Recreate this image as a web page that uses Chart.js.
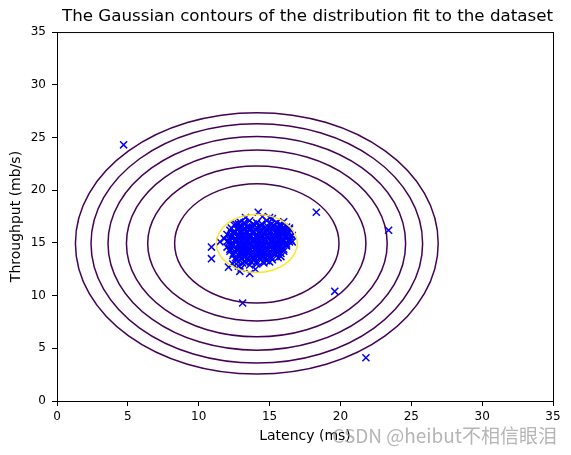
<!DOCTYPE html>
<html>
<head>
<meta charset="utf-8">
<script src="https://cdn.jsdelivr.net/npm/chart.js@4.4.1/dist/chart.umd.min.js"></script>
<style>
  html, body { margin: 0; padding: 0; background: #fff; }
</style>
</head>
<body>
<canvas id="gaussChart" width="571" height="455"></canvas>
<script>
// server data: latency (ms) vs throughput (mb/s)
const latency = [
  13.3, 14.5, 15.2,
  12.9, 13.6, 14.1, 14.8, 15.5, 16.0,
  12.8, 13.25, 13.85, 14.45, 15.15, 15.75,
  12.5, 13.0, 13.5, 13.9, 14.4, 14.9, 15.3, 15.8, 16.2,
  12.9, 13.4, 13.8, 14.3, 14.7, 15.2, 15.6, 16.0,
  12.3, 12.75, 13.25, 13.7, 14.15, 14.65, 15.1, 15.55, 16.0, 16.4,
  12.2, 12.7, 13.1, 13.6, 14.0, 14.4, 14.8, 15.2, 15.6, 16.0, 16.4,
  12.5, 12.95, 13.4, 13.85, 14.3, 14.7, 15.1, 15.5, 15.95, 16.3,
  12.45, 12.9, 13.35, 13.8, 14.2, 14.6, 15.0, 15.4, 15.8, 16.2,
  12.0, 12.5, 12.9, 13.3, 13.8, 14.2, 14.6, 15.0, 15.4, 15.9, 16.3, 16.6,
  12.35, 12.8, 13.2, 13.65, 14.1, 14.5, 14.9, 15.3, 15.75, 16.2,
  12.25, 12.7, 13.1, 13.55, 14.0, 14.4, 14.8, 15.2, 15.65, 16.1, 16.45,
  11.8, 12.3, 12.7, 13.2, 13.6, 14.0, 14.4, 14.9, 15.3, 15.7, 16.1, 16.5,
  12.2, 12.6, 13.05, 13.5, 13.9, 14.3, 14.75, 15.2, 15.6, 16.0, 16.4,
  12.05, 12.5, 12.95, 13.4, 13.8, 14.2, 14.65, 15.1, 15.5, 15.9, 16.3,
  12.1, 12.6, 13.0, 13.4, 13.8, 14.3, 14.7, 15.1, 15.5, 15.9, 16.4,
  12.4, 12.85, 13.3, 13.7, 14.15, 14.6, 15.0, 15.4, 15.8, 16.2,
  12.35, 12.8, 13.2, 13.6, 14.05, 14.5, 14.9, 15.3, 15.7, 16.15,
  12.0, 12.4, 12.9, 13.3, 13.7, 14.1, 14.5, 15.0, 15.4, 15.8, 16.2,
  12.3, 12.7, 13.15, 13.6, 14.0, 14.4, 14.85, 15.25, 15.7,
  12.2, 12.65, 13.1, 13.5, 13.9, 14.3, 14.75, 15.2, 15.6, 16.0,
  12.2, 12.7, 13.1, 13.5, 14.0, 14.4, 14.8, 15.2, 15.6, 16.0,
  12.6, 13.0, 13.4, 13.85, 14.3, 14.7, 15.1, 15.5,
  12.45, 12.9, 13.3, 13.75, 14.2, 14.6, 15.0, 15.4, 15.8,
  12.4, 12.8, 13.2, 13.7, 14.1, 14.5, 14.9, 15.4, 15.8,
  12.9, 13.3, 13.8, 14.2, 14.6, 15.0,
  12.6, 13.0, 13.45, 13.9, 14.3, 14.7, 15.15, 15.6,
  12.6, 13.0, 13.5, 13.9, 14.3, 14.8, 15.2,
  12.8, 13.25, 13.7, 14.1, 14.55, 15.0,
  12.4, 13.1, 13.6, 14.1, 14.6,
  12.1, 13.0, 14.0,
  12.8, 13.6, 12.9, 11.5, 10.9, 10.9, 14.2, 16.6, 12.6, 13.2, 15.0,
  4.7, 18.3, 23.4, 19.6, 21.8, 13.1
];
const throughput = [
  17.4, 17.5, 17.3,
  17.0, 17.1, 16.9, 17.1, 16.9, 17.0,
  16.8, 16.8, 16.8, 16.8, 16.8, 16.8,
  16.7, 16.6, 16.5, 16.7, 16.6, 16.5, 16.7, 16.6, 16.5,
  16.5, 16.5, 16.5, 16.5, 16.5, 16.5, 16.5, 16.5,
  16.4, 16.4, 16.4, 16.4, 16.4, 16.4, 16.4, 16.4, 16.4, 16.4,
  16.2, 16.3, 16.1, 16.2, 16.3, 16.1, 16.2, 16.3, 16.1, 16.2, 16.3,
  16.1, 16.1, 16.1, 16.1, 16.1, 16.1, 16.1, 16.1, 16.1, 16.1,
  16.0, 16.0, 16.0, 16.0, 16.0, 16.0, 16.0, 16.0, 16.0, 16.0,
  15.8, 15.9, 15.7, 15.8, 15.9, 15.7, 15.8, 15.9, 15.7, 15.8, 15.9, 15.7,
  15.7, 15.7, 15.7, 15.7, 15.7, 15.7, 15.7, 15.7, 15.7, 15.7,
  15.6, 15.6, 15.6, 15.6, 15.6, 15.6, 15.6, 15.6, 15.6, 15.6, 15.6,
  15.4, 15.5, 15.3, 15.4, 15.5, 15.3, 15.4, 15.5, 15.3, 15.4, 15.5, 15.3,
  15.3, 15.3, 15.3, 15.3, 15.3, 15.3, 15.3, 15.3, 15.3, 15.3, 15.3,
  15.2, 15.2, 15.2, 15.2, 15.2, 15.2, 15.2, 15.2, 15.2, 15.2, 15.2,
  15.0, 15.1, 14.9, 15.0, 15.1, 14.9, 15.0, 15.1, 14.9, 15.0, 15.1,
  14.9, 14.9, 14.9, 14.9, 14.9, 14.9, 14.9, 14.9, 14.9, 14.9,
  14.8, 14.8, 14.8, 14.8, 14.8, 14.8, 14.8, 14.8, 14.8, 14.8,
  14.6, 14.7, 14.5, 14.6, 14.7, 14.5, 14.6, 14.7, 14.5, 14.6, 14.7,
  14.5, 14.5, 14.5, 14.5, 14.5, 14.5, 14.5, 14.5, 14.5,
  14.4, 14.4, 14.4, 14.4, 14.4, 14.4, 14.4, 14.4, 14.4, 14.4,
  14.2, 14.3, 14.1, 14.2, 14.3, 14.1, 14.2, 14.3, 14.1, 14.2,
  14.1, 14.1, 14.1, 14.1, 14.1, 14.1, 14.1, 14.1,
  14.0, 14.0, 14.0, 14.0, 14.0, 14.0, 14.0, 14.0, 14.0,
  13.8, 13.9, 13.7, 13.8, 13.9, 13.7, 13.8, 13.9, 13.7,
  13.7, 13.7, 13.7, 13.7, 13.7, 13.7,
  13.6, 13.6, 13.6, 13.6, 13.6, 13.6, 13.6, 13.6,
  13.4, 13.5, 13.3, 13.4, 13.5, 13.3, 13.4,
  13.2, 13.2, 13.2, 13.2, 13.2, 13.2,
  13.0, 13.1, 12.9, 13.0, 13.1,
  12.7, 12.6, 12.5,
  12.8, 12.1, 12.3, 15.1, 13.5, 14.6, 17.9, 15.1, 16.8, 16.9, 17.4,
  24.3, 17.9, 16.2, 10.4, 4.1, 9.3
];

// contour lines of the fitted gaussian (levels 1e-2 ... 1e-20)
const contourLevels = ["1e-2", "1e-5", "1e-8", "1e-11", "1e-14", "1e-17", "1e-20"];
const contour1e2 = [[16.96,14.95],[16.74,16.00],[16.12,16.90],[15.20,17.49],[14.10,17.70],[13.00,17.49],[12.08,16.90],[11.46,16.00],[11.24,14.95],[11.46,13.90],[12.08,13.00],[13.00,12.41],[14.10,12.20],[15.20,12.41],[16.12,13.00],[16.74,13.90]];
const contour1e5 = [[19.90,14.95],[19.46,17.11],[18.20,18.95],[16.32,20.17],[14.10,20.60],[11.88,20.17],[10.00,18.95],[8.74,17.11],[8.30,14.95],[8.74,12.79],[10.00,10.96],[11.88,9.73],[14.10,9.30],[16.32,9.73],[18.20,10.96],[19.46,12.79]];
const contour1e8 = [[21.80,14.95],[21.21,17.76],[19.55,20.15],[17.05,21.74],[14.10,22.30],[11.15,21.74],[8.66,20.15],[6.99,17.76],[6.40,14.95],[6.99,12.14],[8.66,9.75],[11.15,8.16],[14.10,7.60],[17.05,8.16],[19.55,9.75],[21.21,12.14]];
const contour1e11 = [[23.30,14.95],[22.60,18.34],[20.61,21.22],[17.62,23.14],[14.10,23.81],[10.58,23.14],[7.60,21.22],[5.60,18.34],[4.90,14.95],[5.60,11.56],[7.60,8.69],[10.58,6.76],[14.10,6.09],[17.62,6.76],[20.61,8.69],[22.60,11.56]];
const contour1e14 = [[24.60,14.95],[23.80,18.83],[21.53,22.11],[18.12,24.31],[14.10,25.08],[10.08,24.31],[6.68,22.11],[4.40,18.83],[3.60,14.95],[4.40,11.07],[6.68,7.79],[10.08,5.59],[14.10,4.82],[18.12,5.59],[21.53,7.79],[23.80,11.07]];
const contour1e17 = [[25.80,14.95],[24.91,19.29],[22.37,22.98],[18.58,25.44],[14.10,26.30],[9.62,25.44],[5.83,22.98],[3.29,19.29],[2.40,14.95],[3.29,10.61],[5.83,6.92],[9.62,4.46],[14.10,3.60],[18.58,4.46],[22.37,6.92],[24.91,10.61]];
const contour1e20 = [[26.90,14.95],[25.93,19.70],[23.15,23.72],[19.00,26.41],[14.10,27.35],[9.20,26.41],[5.05,23.72],[2.27,19.70],[1.30,14.95],[2.27,10.21],[5.05,6.18],[9.20,3.49],[14.10,2.55],[19.00,3.49],[23.15,6.18],[25.93,10.21]];
const contours = [contour1e2, contour1e5, contour1e8, contour1e11, contour1e14, contour1e17, contour1e20];
const contourColors = ["#fde725", "#440154", "#440154", "#440154", "#440154", "#440154", "#440154"];

const axisTicks = [0, 5, 10, 15, 20, 25, 30, 35];

const FONT = "'DejaVu Sans', sans-serif";

const points = latency.map((x, i) => ({ x: x, y: throughput[i] }));

// wrap each ring one point past both ends so the spline closes smoothly,
// then hide the two helper segments
const contourSets = contours.map((ring, i) => {
  const n = ring.length;
  const wrapped = [ring[n - 1], ...ring, ring[0], ring[1]];
  const last = wrapped.length - 1;
  return {
    label: "p = " + contourLevels[i],
    data: wrapped.map((p) => ({ x: p[0], y: p[1] })),
    showLine: true,
    borderColor: contourColors[i],
    borderWidth: 1.5,
    pointRadius: 0,
    tension: 0.35,
    fill: false,
    order: 1,
    segment: {
      borderColor: (c) => (c.p0DataIndex === 0 || c.p1DataIndex === last ? "rgba(0,0,0,0)" : undefined),
    },
  };
});

// box around the plot like matplotlib spines
const frame = {
  id: "frame",
  afterDraw(chart) {
    const { ctx, chartArea: a } = chart;
    ctx.save();
    ctx.strokeStyle = "#000";
    ctx.lineWidth = 1;
    ctx.strokeRect(a.left + 0.5, a.top + 0.5, a.right - a.left, a.bottom - a.top);
    ctx.restore();
  },
};

const watermark = {
  id: "watermark",
  afterDraw(chart) {
    const ctx = chart.ctx;
    ctx.save();
    ctx.font = "19px 'Noto Sans CJK SC', sans-serif";
    ctx.textAlign = "right";
    ctx.textBaseline = "middle";
    ctx.fillStyle = "rgba(150, 150, 150, 0.7)";
    ctx.fillText("CSDN @heibut不相信眼泪", 557, 436);
    ctx.restore();
  },
};

const ctx = document.getElementById("gaussChart").getContext("2d");

const config = {
  type: "scatter",
  data: {
    datasets: [
      ...contourSets,
      {
        label: "data",
        data: points,
        pointStyle: "crossRot",
        pointRadius: 5,
        pointBorderWidth: 1.5,
        borderColor: "#0000ff",
        backgroundColor: "#0000ff",
        order: 2,
      },
    ],
  },
  options: {
    responsive: false,
    animation: false,
    layout: { padding: { right: 18 } },
    plugins: {
      legend: { display: false },
      tooltip: { enabled: false },
      title: {
        display: true,
        text: "The Gaussian contours of the distribution fit to the dataset",
        align: "end",
        color: "#000",
        font: { family: FONT, size: 16.7, weight: "normal", lineHeight: 1.2 },
        padding: { top: 7, bottom: 5 },
      },
    },
    scales: {
      x: {
        type: "linear",
        min: 0,
        max: 35,
        afterBuildTicks: (s) => { s.ticks = axisTicks.map((v) => ({ value: v })); },
        ticks: { color: "#000", font: { family: FONT, size: 12 }, padding: 4, maxRotation: 0 },
        grid: { drawOnChartArea: false, tickLength: 5, color: "#000" },
        border: { color: "#000" },
        title: {
          display: true,
          text: "Latency (ms)",
          color: "#000",
          font: { family: FONT, size: 14 },
          padding: { top: 0, bottom: 10 },
        },
        afterFit: (s) => { s.height = 54; },
      },
      y: {
        type: "linear",
        min: 0,
        max: 35,
        afterBuildTicks: (s) => { s.ticks = axisTicks.map((v) => ({ value: v })); },
        ticks: { color: "#000", font: { family: FONT, size: 12 }, padding: 6 },
        grid: { drawOnChartArea: false, tickLength: 5, color: "#000" },
        border: { color: "#000" },
        title: {
          display: true,
          text: "Throughput (mb/s)",
          color: "#000",
          font: { family: FONT, size: 14 },
          padding: { top: 7.6, bottom: 0 },
        },
        afterFit: (s) => { s.width = 57; },
      },
    },
  },
  plugins: [frame, watermark],
};

const gaussChart = new Chart(ctx, config);
</script>
</body>
</html>
